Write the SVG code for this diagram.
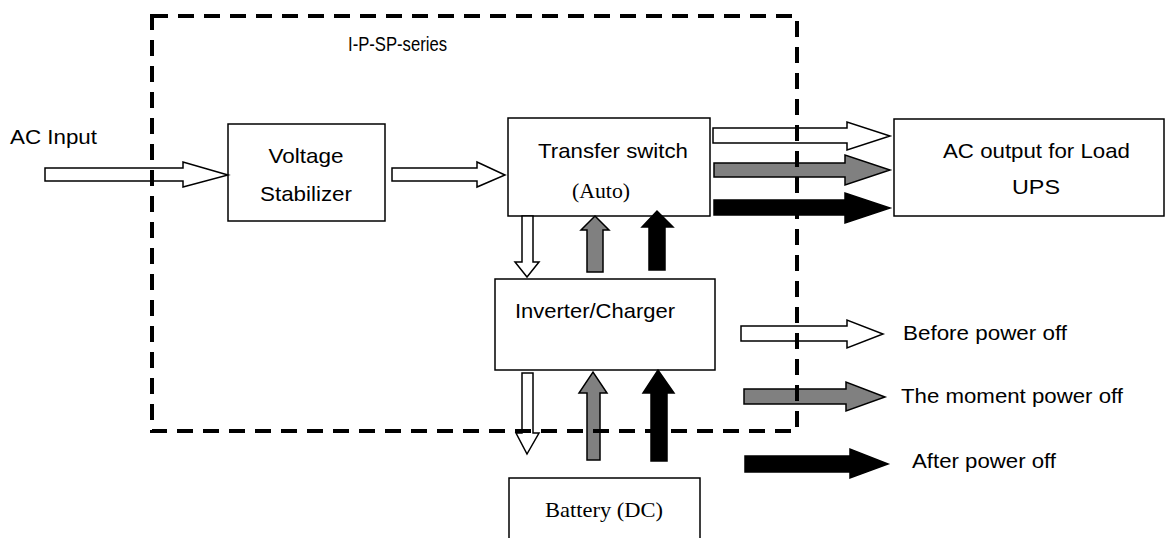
<svg xmlns="http://www.w3.org/2000/svg" width="1167" height="538" viewBox="0 0 1167 538">
<style>
.box{fill:#fff;stroke:#000;stroke-width:1.5}
.hol{fill:#fff;stroke:#000;stroke-width:1.5;stroke-linejoin:miter}
.gry{fill:#808080;stroke:#000;stroke-width:1.5}
.blk{fill:#000;stroke:#000;stroke-width:1.5}
.t{font-family:"Liberation Sans",Arial,sans-serif;font-size:21px;fill:#000}
.s{font-family:"Liberation Serif","Times New Roman",serif;font-size:22px;fill:#000}
.dash{fill:none;stroke:#000;stroke-width:4;stroke-dasharray:16 10}
</style>
<rect width="1167" height="538" fill="#fff"/>

<text class="t" x="10" y="144" textLength="87" lengthAdjust="spacingAndGlyphs">AC Input</text>

<g id="voltage-stabilizer">
<rect class="box" x="228" y="124" width="157" height="97"/>
<text class="t" x="306" y="163" text-anchor="middle" textLength="75" lengthAdjust="spacingAndGlyphs">Voltage</text>
<text class="t" x="306" y="201" text-anchor="middle" textLength="92" lengthAdjust="spacingAndGlyphs">Stabilizer</text>
</g>

<g id="transfer-switch">
<rect class="box" x="508" y="118" width="202" height="98"/>
<text class="t" x="538" y="158" textLength="150" lengthAdjust="spacingAndGlyphs">Transfer switch</text>
<text class="s" x="572" y="198" textLength="58" lengthAdjust="spacingAndGlyphs">(Auto)</text>
</g>

<g id="ac-output">
<rect class="box" x="894" y="119" width="270" height="97"/>
<text class="t" x="943" y="158" textLength="187" lengthAdjust="spacingAndGlyphs">AC output for Load</text>
<text class="t" x="1036" y="194" text-anchor="middle" textLength="48" lengthAdjust="spacingAndGlyphs">UPS</text>
</g>

<g id="inverter-charger">
<rect class="box" x="495" y="279" width="220" height="91"/>
<text class="t" x="515" y="318" textLength="160" lengthAdjust="spacingAndGlyphs">Inverter/Charger</text>
</g>

<g id="battery">
<rect class="box" x="509" y="478" width="191" height="70"/>
<text class="s" x="545" y="517" textLength="118" lengthAdjust="spacingAndGlyphs">Battery (DC)</text>
</g>

<g id="connectors">
<polygon class="hol" points="45,168 183,168 183,162 228,175 183,187 183,181 45,181"/>
<polygon class="hol" points="392,168 477,168 477,162 505,175 477,187 477,181 392,181"/>
<polygon class="hol" points="713,128 847,128 847,122 890,136 847,150 847,143 713,143"/>
<polygon class="gry" points="714,163 845,163 845,155 890,170 845,185 845,177 714,177"/>
<polygon class="blk" points="714,200 845,200 845,193 890,208 845,223 845,215 714,215"/>
<polygon class="hol" points="522,216 533,216 533,262 539,262 527,277 515,262 522,262"/>
<polygon class="gry" points="587,272 603,272 603,230 609,230 595,216 581,230 587,230"/>
<polygon class="blk" points="649,270 665,270 665,227 673,227 657,211 642,227 649,227"/>
<polygon class="hol" points="522,373 533,373 533,433 539,433 527,454 516,433 522,433"/>
<polygon class="gry" points="587,460 600,460 600,393 607,393 593,372 579,393 587,393"/>
<polygon class="blk" points="651,461 667,461 667,393 674,393 658,370 643,393 651,393"/>
<polygon class="hol" points="741,326 847,326 847,320 883,334 847,348 847,341 741,341"/>
<polygon class="gry" points="744,389 846,389 846,382 885,397 846,411 846,404 744,404"/>
<polygon class="blk" points="745,456 850,456 850,449 888,464 850,478 850,472 745,472"/>
</g>

<g id="legend-labels">
<text class="t" x="903" y="340" textLength="164" lengthAdjust="spacingAndGlyphs">Before power off</text>
<text class="t" x="901" y="403" textLength="222" lengthAdjust="spacingAndGlyphs">The moment power off</text>
<text class="t" x="912" y="468" textLength="144" lengthAdjust="spacingAndGlyphs">After power off</text>
</g>

<g id="series-boundary">
<rect class="dash" x="152" y="16" width="645" height="415"/>
<text class="t" x="348" y="51" font-size="18" textLength="99" lengthAdjust="spacingAndGlyphs">I-P-SP-series</text>
</g>
</svg>
